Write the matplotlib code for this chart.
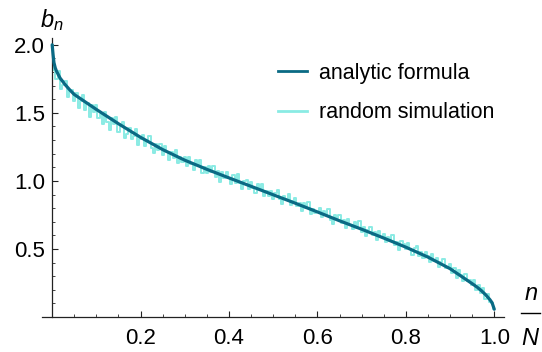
import numpy as np
import matplotlib
matplotlib.use("Agg")
import matplotlib.pyplot as plt
from matplotlib.ticker import MultipleLocator, FixedLocator
from matplotlib.lines import Line2D

plt.rcParams['font.family'] = ['Liberation Sans', 'DejaVu Sans']
plt.rcParams['mathtext.fontset'] = 'custom'
plt.rcParams['mathtext.it'] = 'Liberation Sans:italic'
plt.rcParams['mathtext.rm'] = 'Liberation Sans'

# analytic formula curve
analytic_x = [0.0, 0.002, 0.004, 0.007, 0.01, 0.018, 0.03, 0.04, 0.05, 0.075, 0.10,
              0.15, 0.20, 0.25, 0.30, 0.35, 0.40, 0.45, 0.50, 0.55, 0.60, 0.65,
              0.70, 0.75, 0.80, 0.85, 0.90, 0.95, 0.96, 0.97, 0.98, 0.99, 0.995, 1.0]
analytic_y = [2.0, 1.93, 1.87, 1.83, 1.805, 1.755, 1.705, 1.668, 1.635, 1.58, 1.525,
              1.42, 1.32, 1.23, 1.152, 1.085, 1.022, 0.96, 0.898, 0.836, 0.772, 0.707,
              0.645, 0.58, 0.513, 0.44, 0.355, 0.245, 0.222, 0.196, 0.165, 0.128, 0.105, 0.057]

# random simulation (201 samples, step 0.005)
sim_y = [
    2.0, 1.812, 1.752, 1.804, 1.678, 1.703, 1.736, 1.619, 1.664, 1.668,
    1.589, 1.648, 1.532, 1.584, 1.629, 1.52, 1.572, 1.47, 1.557, 1.504,
    1.556, 1.462, 1.493, 1.42, 1.507, 1.434, 1.374, 1.462, 1.416, 1.469,
    1.36, 1.406, 1.431, 1.316, 1.348, 1.387, 1.307, 1.332, 1.378, 1.263,
    1.309, 1.335, 1.256, 1.296, 1.329, 1.243, 1.206, 1.274, 1.23, 1.27,
    1.191, 1.26, 1.21, 1.154, 1.216, 1.166, 1.228, 1.129, 1.178, 1.142,
    1.176, 1.113, 1.177, 1.121, 1.079, 1.15, 1.115, 1.157, 1.059, 1.102,
    1.06, 1.11, 1.068, 1.111, 1.028, 1.071, 0.994, 1.065, 1.024, 1.066,
    1.025, 0.977, 1.041, 0.985, 1.049, 0.987, 0.939, 0.996, 1.01, 0.941,
    0.991, 0.95, 0.909, 0.979, 0.938, 0.974, 0.891, 0.927, 0.892, 0.928,
    0.866, 0.909, 0.931, 0.868, 0.827, 0.891, 0.864, 0.907, 0.823, 0.852,
    0.874, 0.812, 0.84, 0.778, 0.841, 0.80, 0.843, 0.759, 0.795, 0.767,
    0.768, 0.804, 0.734, 0.777, 0.749, 0.792, 0.715, 0.681, 0.751, 0.724,
    0.752, 0.69, 0.712, 0.656, 0.72, 0.679, 0.645, 0.695, 0.653, 0.703,
    0.627, 0.663, 0.593, 0.636, 0.664, 0.602, 0.623, 0.568, 0.631, 0.59,
    0.611, 0.548, 0.591, 0.556, 0.605, 0.529, 0.55, 0.494, 0.557, 0.537,
    0.502, 0.544, 0.501, 0.459, 0.508, 0.522, 0.451, 0.479, 0.43, 0.478,
    0.45, 0.407, 0.461, 0.411, 0.437, 0.366, 0.406, 0.426, 0.361, 0.367,
    0.393, 0.326, 0.357, 0.29, 0.342, 0.31, 0.264, 0.316, 0.263, 0.273,
    0.234, 0.272, 0.197, 0.234, 0.178, 0.212, 0.133, 0.172, 0.11, 0.101,
    0.057]
sim_x = np.linspace(0.0, 1.0, len(sim_y))

x_major = [0.2, 0.4, 0.6, 0.8, 1.0]
y_major = [0.5, 1.0, 1.5, 2.0]
series_labels = ["analytic formula", "random simulation"]

dark = '#0a6a84'
light = '#8aebe4'

fig = plt.figure(figsize=(5.42, 3.52), dpi=100)
ax = fig.add_axes([42/542, 35/352, 462/542, 279/352])

ax.plot(sim_x, sim_y, color=light, lw=1.4, zorder=2, drawstyle='steps-mid')
ax.plot(analytic_x, analytic_y, color=dark, lw=2.3, zorder=3,
        solid_capstyle='round', solid_joinstyle='round')

ax.set_xlim(-0.023, 1.022)
ax.set_ylim(0, 2.05)
ax.spines['top'].set_visible(False)
ax.spines['right'].set_visible(False)
ax.spines['left'].set_position(('data', 0))
ax.spines['bottom'].set_position(('data', 0))
for s in ('left', 'bottom'):
    ax.spines[s].set_color('#222222')
    ax.spines[s].set_linewidth(0.9)

ax.xaxis.set_major_locator(FixedLocator(x_major))
ax.yaxis.set_major_locator(FixedLocator(y_major))
ax.xaxis.set_minor_locator(MultipleLocator(0.05))
ax.yaxis.set_minor_locator(MultipleLocator(0.1))
ax.set_xticklabels([f"{v:.1f}" for v in x_major])
ax.set_yticklabels([f"{v:.1f}" for v in y_major])
ax.tick_params(which='major', direction='in', length=4.5, width=0.8,
               color='#222222', labelsize=16)
ax.tick_params(which='minor', direction='in', length=2.3, width=0.7,
               color='#444444')
ax.tick_params(axis='x', which='major', pad=8)
ax.tick_params(axis='y', which='major', pad=5)

handles = [Line2D([], [], color=dark, lw=2.0), Line2D([], [], color=light, lw=2.0)]
fig.legend(handles, series_labels, loc='upper left',
           bbox_to_anchor=(278/542, 1 - 63/352), frameon=False,
           fontsize=15.5, handlelength=1.35, handletextpad=0.55,
           labelspacing=0.85, borderpad=0, borderaxespad=0)

fig.text(40/542, 1 - 27/352, r'$b_n$', fontsize=17, ha='left', va='baseline')
fig.text(531/542, 1 - 300/352, 'n', fontsize=17, style='italic',
         ha='center', va='baseline')
fig.add_artist(Line2D([521/542, 540/542], [1 - 313/352, 1 - 313/352],
                      color='black', lw=1.0, transform=fig.transFigure))
fig.text(530/542, 1 - 345/352, 'N', fontsize=17, style='italic',
         ha='center', va='baseline')

fig.savefig('out.png', dpi=100)
